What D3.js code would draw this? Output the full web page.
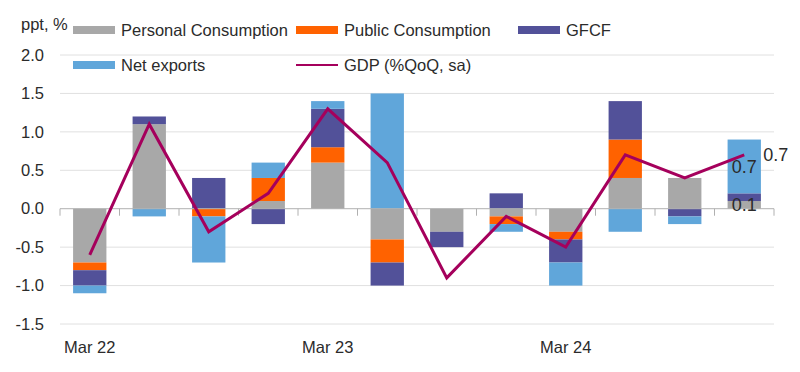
<!DOCTYPE html>
<html>
<head>
<meta charset="utf-8">
<script src="https://cdn.jsdelivr.net/npm/d3@7"></script>
<style>
  body { margin: 0; background: #fff; }
  text { font-family: "Liberation Sans", Arial, sans-serif; fill: #2b2b2b; }
</style>
</head>
<body>
<div id="chart"></div>
<script>
var quarters = ["Mar 22", "Jun 22", "Sep 22", "Dec 22", "Mar 23", "Jun 23",
                "Sep 23", "Dec 23", "Mar 24", "Jun 24", "Sep 24", "Dec 24"];
var personal = [-0.7, 1.1, 0.0, 0.1, 0.6, -0.4, -0.3, -0.1, -0.3, 0.4, 0.4, 0.1];
var publicCons = [-0.1, 0.0, -0.1, 0.3, 0.2, -0.3, 0.0, -0.1, -0.1, 0.5, 0.0, 0.0];
var gfcf = [-0.2, 0.1, 0.4, -0.2, 0.5, -0.3, -0.2, 0.2, -0.3, 0.5, -0.1, 0.1];
var netExports = [-0.1, -0.1, -0.6, 0.2, 0.1, 1.5, 0.0, -0.1, -0.3, -0.3, -0.1, 0.7];
var gdp = [-0.6, 1.1, -0.3, 0.2, 1.3, 0.6, -0.9, -0.1, -0.5, 0.7, 0.4, 0.7];
var yTicks = [-1.5, -1.0, -0.5, 0.0, 0.5, 1.0, 1.5, 2.0];
var xTickLabels = ["Mar 22", "Mar 23", "Mar 24"];

var svgWidth = 800, svgHeight = 372;
var margin = { top: 55, right: 26, bottom: 48, left: 60 };
var width = svgWidth - margin.left - margin.right;
var height = 324 - margin.top;

var series = [
  { key: "personal", name: "Personal Consumption", color: "#a8a8a8", values: personal },
  { key: "public", name: "Public Consumption", color: "#ff6200", values: publicCons },
  { key: "gfcf", name: "GFCF", color: "#525199", values: gfcf },
  { key: "net", name: "Net exports", color: "#60a6da", values: netExports }
];

var rows = quarters.map(function(q, i) {
  var r = { q: q };
  series.forEach(function(s) { r[s.key] = s.values[i]; });
  return r;
});

var stacked = d3.stack()
  .keys(series.map(function(s) { return s.key; }))
  .offset(d3.stackOffsetDiverging)(rows);

var svg = d3.select("#chart").append("svg")
  .attr("width", svgWidth)
  .attr("height", svgHeight);

var g = svg.append("g").attr("transform", `translate(${margin.left}, ${margin.top})`);

var x = d3.scaleBand().domain(quarters).range([0, width]).paddingInner(0.44).paddingOuter(0.22);
var y = d3.scaleLinear().domain([-1.5, 2.0]).range([height, 0]);

// gridlines
g.append("g").selectAll("line")
  .data(yTicks.filter(function(t) { return t !== 0; }))
  .enter().append("line")
  .attr("x1", 0).attr("x2", width)
  .attr("y1", function(d) { return y(d); })
  .attr("y2", function(d) { return y(d); })
  .attr("stroke", "#e0e0e0")
  .attr("stroke-width", 1);

// y tick labels
var leftAxis = d3.axisLeft(y).tickValues(yTicks).tickSize(0).tickPadding(16);
var yAxisG = g.append("g").call(leftAxis);
yAxisG.select(".domain").remove();
yAxisG.selectAll("text").style("font-size", "16.5px").attr("fill", "#2b2b2b")
  .text(function(d) { return d3.format(".1f")(d).replace("−", "-"); });

// bars
g.append("g").selectAll("g")
  .data(stacked)
  .enter().append("g")
  .attr("fill", function(d, i) { return series[i].color; })
  .selectAll("rect")
  .data(function(d) { return d; })
  .enter().append("rect")
  .attr("x", function(d) { return x(d.data.q); })
  .attr("width", x.bandwidth())
  .attr("y", function(d) { return y(Math.max(d[0], d[1])); })
  .attr("height", function(d) { return Math.abs(y(d[0]) - y(d[1])); });

// zero axis with ticks between categories
var step = x.step();
g.append("line")
  .attr("x1", 0).attr("x2", width)
  .attr("y1", y(0)).attr("y2", y(0))
  .attr("stroke", "#b0b0b0").attr("stroke-width", 1);
g.append("g").selectAll("line")
  .data(d3.range(quarters.length + 1))
  .enter().append("line")
  .attr("x1", function(d) { return d * step; })
  .attr("x2", function(d) { return d * step; })
  .attr("y1", y(0)).attr("y2", y(0) + 7)
  .attr("stroke", "#b0b0b0");

// x labels
g.append("g").selectAll("text")
  .data(xTickLabels)
  .enter().append("text")
  .attr("x", function(d) { return x(d) + x.bandwidth() / 2; })
  .attr("y", 298)
  .attr("text-anchor", "middle")
  .style("font-size", "16.5px")
  .text(function(d) { return d; });

// GDP line
var line = d3.line()
  .x(function(d, i) { return x(quarters[i]) + x.bandwidth() / 2; })
  .y(function(d) { return y(d); });
g.append("path")
  .datum(gdp)
  .attr("d", line)
  .attr("fill", "none")
  .attr("stroke", "#a5005c")
  .attr("stroke-width", 3)
  .attr("stroke-linejoin", "miter");

// data labels for last quarter
var last = quarters.length - 1;
var cx = x(quarters[last]) + x.bandwidth() / 2;
var netLayer = stacked[3][last];
var persLayer = stacked[0][last];
g.append("text")
  .attr("x", cx).attr("y", y((netLayer[0] + netLayer[1]) / 2))
  .attr("dy", "0.35em").attr("text-anchor", "middle")
  .style("font-size", "18px")
  .text(d3.format(".1f")(netExports[last]));
g.append("text")
  .attr("x", cx).attr("y", y((persLayer[0] + persLayer[1]) / 2))
  .attr("dy", "0.35em").attr("text-anchor", "middle")
  .style("font-size", "18px")
  .text(d3.format(".1f")(personal[last]));
g.append("text")
  .attr("x", cx + 19).attr("y", y(gdp[last]))
  .attr("dy", "0.35em")
  .style("font-size", "18px")
  .text(d3.format(".1f")(gdp[last]));

// unit label
svg.append("text")
  .attr("x", 21).attr("y", 30)
  .style("font-size", "16.5px")
  .text("ppt, %");

// legend
var legendItems = [
  { name: series[0].name, color: series[0].color, type: "rect", x: 73, y: 30 },
  { name: series[1].name, color: series[1].color, type: "rect", x: 296, y: 30 },
  { name: series[2].name, color: series[2].color, type: "rect", x: 518, y: 30 },
  { name: series[3].name, color: series[3].color, type: "rect", x: 73, y: 65 },
  { name: "GDP (%QoQ, sa)", color: "#a5005c", type: "line", x: 296, y: 65 }
];
var legend = svg.append("g").selectAll("g")
  .data(legendItems)
  .enter().append("g")
  .attr("transform", function(d) { return `translate(${d.x}, ${d.y})`; });
legend.filter(function(d) { return d.type === "rect"; })
  .append("rect")
  .attr("x", 0).attr("y", -4).attr("width", 42).attr("height", 8)
  .attr("fill", function(d) { return d.color; });
legend.filter(function(d) { return d.type === "line"; })
  .append("line")
  .attr("x1", 0).attr("x2", 42).attr("y1", 0).attr("y2", 0)
  .attr("stroke", function(d) { return d.color; })
  .attr("stroke-width", 2);
legend.append("text")
  .attr("x", 48).attr("y", 0).attr("dy", "0.35em")
  .style("font-size", "16.5px")
  .text(function(d) { return d.name; });
</script>
</body>
</html>
